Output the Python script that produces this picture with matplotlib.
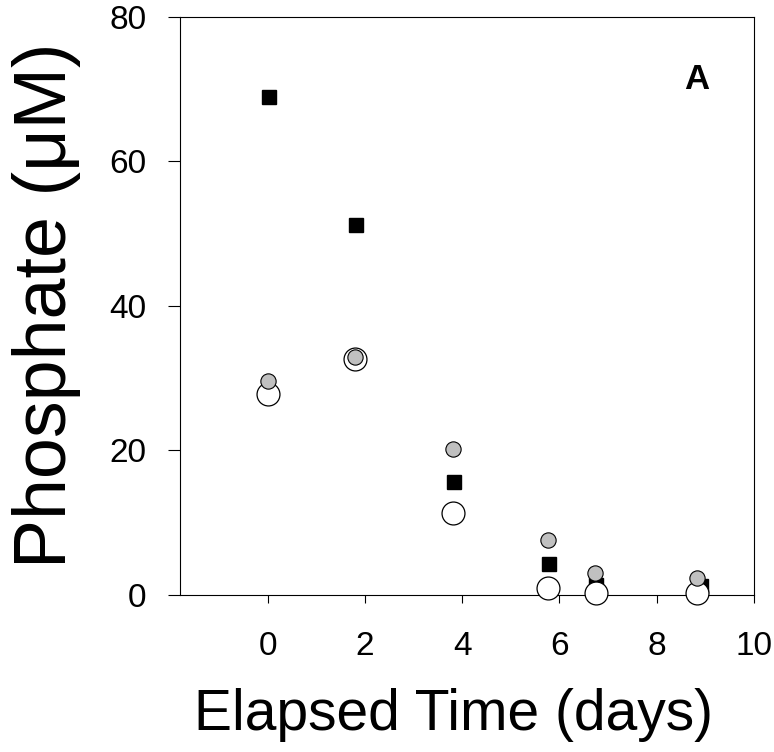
import matplotlib.pyplot as plt

plt.rcParams['font.family'] = ['Liberation Sans', 'DejaVu Sans']

# sampling times (days)
t_sq = [0.02, 1.82, 3.83, 5.79, 6.76, 8.9]
t_gray = [0.0, 1.8, 3.81, 5.77, 6.74, 8.82]
t_open = [0.0, 1.8, 3.81, 5.77, 6.76, 8.82]

# phosphate (uM)
p_sq = [68.9, 51.2, 15.6, 4.3, 1.4, 1.2]
p_gray = [29.6, 32.9, 20.2, 7.6, 3.1, 2.3]
p_open = [27.8, 32.6, 11.3, 1.0, 0.3, 0.3]

fig = plt.figure(figsize=(7.74, 7.52), dpi=100)
ax = fig.add_axes([0.2326, 0.2088, 0.7416, 0.7686])

ax.plot(t_sq, p_sq, 's', color='black', markersize=10.5, zorder=3, clip_on=False)
ax.plot(t_open, p_open, 'o', markerfacecolor='white', markeredgecolor='black',
        markeredgewidth=0.9, markersize=16.5, zorder=4, clip_on=False)
ax.plot(t_gray, p_gray, 'o', markerfacecolor='#c0c0c0', markeredgecolor='black',
        markeredgewidth=0.8, markersize=11, zorder=5, clip_on=False)

ax.set_xlim(-1.8, 10)
ax.set_ylim(0, 80)
ax.set_xticks([0, 2, 4, 6, 8, 10])
ax.set_yticks([0, 20, 40, 60, 80])

ax.tick_params(axis='y', direction='out', length=9, width=0.8, pad=15, labelsize=24)
ax.tick_params(axis='x', direction='out', length=6, width=0.8, pad=20, labelsize=24)
for s in ax.spines.values():
    s.set_linewidth(0.8)

# axis titles placed as in the original figure
fig.text(0.586, 0.0293, 'Elapsed Time (days)', fontsize=41, ha='center', va='baseline')
fig.text(0.06, 0.594, 'Phosphate (μM)', fontsize=53, rotation=90, ha='center', va='center')

ax.text(8.82, 71.3, 'A', fontsize=25, fontweight='bold', ha='center', va='center')

fig.savefig('out.png', dpi=100)
